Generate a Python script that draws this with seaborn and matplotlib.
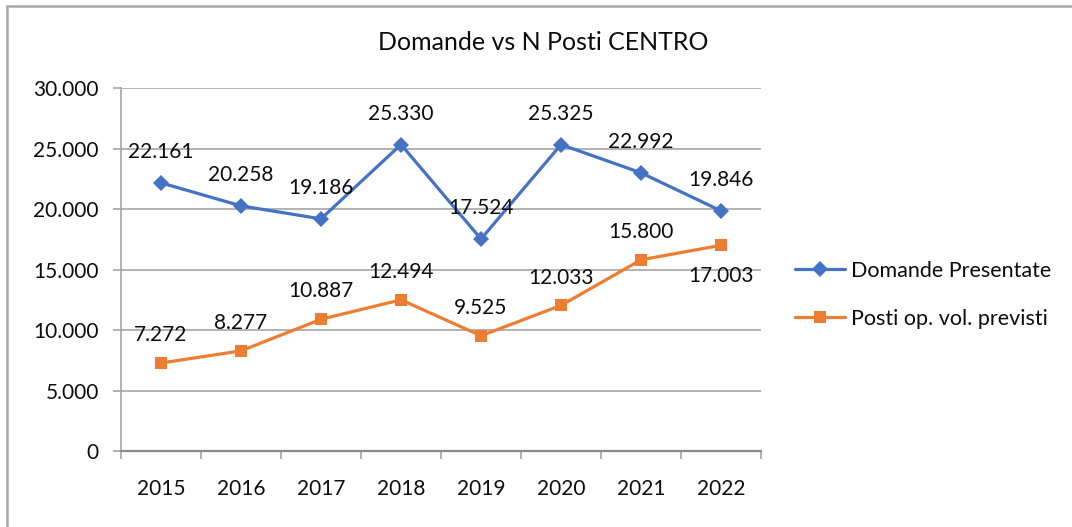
import pandas as pd
import matplotlib.pyplot as plt
import seaborn as sns
from matplotlib.lines import Line2D
from matplotlib.ticker import FixedLocator, FuncFormatter

# --------------------------- DATA ---------------------------

years = ["2015", "2016", "2017", "2018", "2019", "2020", "2021", "2022"]
domande = [22161, 20258, 19186, 25330, 17524, 25325, 22992, 19846]
posti = [7272, 8277, 10887, 12494, 9525, 12033, 15800, 17003]
series_names = ["Domande Presentate", "Posti op. vol. previsti"]
y_ticks = [0, 5000, 10000, 15000, 20000, 25000, 30000]

df = pd.DataFrame({
    "anno": years * 2,
    "valore": domande + posti,
    "serie": [series_names[0]] * len(years) + [series_names[1]] * len(years),
})

def it_fmt(v):
    return f"{int(v):,}".replace(",", ".")

# --------------------------- PLOT ---------------------------

sns.set_theme(style="white")
plt.rcParams["font.family"] = ["Lato", "DejaVu Sans"]

TXT = "#0d0d0d"
FS = 15

fig = plt.figure(figsize=(10.72, 5.27), dpi=100)
ax = fig.add_axes([0.1129, 0.1442, 0.5970, 0.6888])

palette = {series_names[0]: "#4472C4", series_names[1]: "#ED7D31"}
sns.lineplot(data=df, x="anno", y="valore", hue="serie", style="serie",
             markers={series_names[0]: "D", series_names[1]: "s"},
             dashes=False, palette=palette, linewidth=2.3, markersize=8,
             markeredgewidth=0, ax=ax)

# data labels
for i, v in enumerate(domande):
    ax.annotate(it_fmt(v), (i, v), xytext=(0, 22), textcoords="offset points",
                ha="center", va="center", fontsize=FS, color=TXT)
for i, v in enumerate(posti):
    off = -22 if i == len(posti) - 1 else 20
    ax.annotate(it_fmt(v), (i, v), xytext=(0, off), textcoords="offset points",
                ha="center", va="center", fontsize=FS, color=TXT)

ax.set_xlim(-0.5, len(years) - 0.5)
ax.set_ylim(0, 30000)
ax.yaxis.set_major_locator(FixedLocator(y_ticks))
ax.yaxis.set_major_formatter(FuncFormatter(lambda v, p: it_fmt(v)))
ax.set_xticks(range(len(years)))
ax.set_xticklabels(years)
ax.set_xticks([i - 0.5 for i in range(len(years) + 1)], minor=True)
ax.set_xlabel("")
ax.set_ylabel("")

ax.grid(axis="y", color="#a6a6a6", linewidth=1.2)
ax.grid(axis="x", visible=False)
for s in ["top", "right"]:
    ax.spines[s].set_visible(False)
ax.spines["left"].set_color("#a6a6a6")
ax.spines["left"].set_linewidth(1.2)
ax.spines["bottom"].set_color("#8c8c8c")
ax.spines["bottom"].set_linewidth(1.6)

ax.tick_params(axis="y", which="major", left=True, length=6, width=1.2,
               color="#a6a6a6", labelsize=FS, pad=10, labelcolor=TXT)
ax.tick_params(axis="x", which="major", bottom=False, length=0,
               labelsize=FS, pad=20, labelcolor=TXT)
ax.tick_params(axis="x", which="minor", bottom=True, length=6, width=1.2,
               color="#a6a6a6")

# legend on the right
handles, labels = ax.get_legend_handles_labels()
ax.get_legend().remove()
fig.legend(handles, labels, loc="center left",
           bbox_to_anchor=(0.7416, 0.4402), frameon=False, fontsize=15.5,
           handlelength=2.3, handletextpad=0.3, labelspacing=1.3,
           borderpad=0, borderaxespad=0, labelcolor=TXT)

fig.text(0.507, 1 - 42 / 527, "Domande vs N Posti CENTRO", ha="center",
         va="center", fontsize=18, color=TXT)

# chart border (left and top visible)
fig.add_artist(Line2D([6.5 / 1072, 6.5 / 1072], [0, 1 - 5.5 / 527],
                      transform=fig.transFigure, color="#a6a6a6", linewidth=1.8))
fig.add_artist(Line2D([6.5 / 1072, 1], [1 - 5.5 / 527, 1 - 5.5 / 527],
                      transform=fig.transFigure, color="#a6a6a6", linewidth=1.8))

fig.savefig("out.png", dpi=100)
